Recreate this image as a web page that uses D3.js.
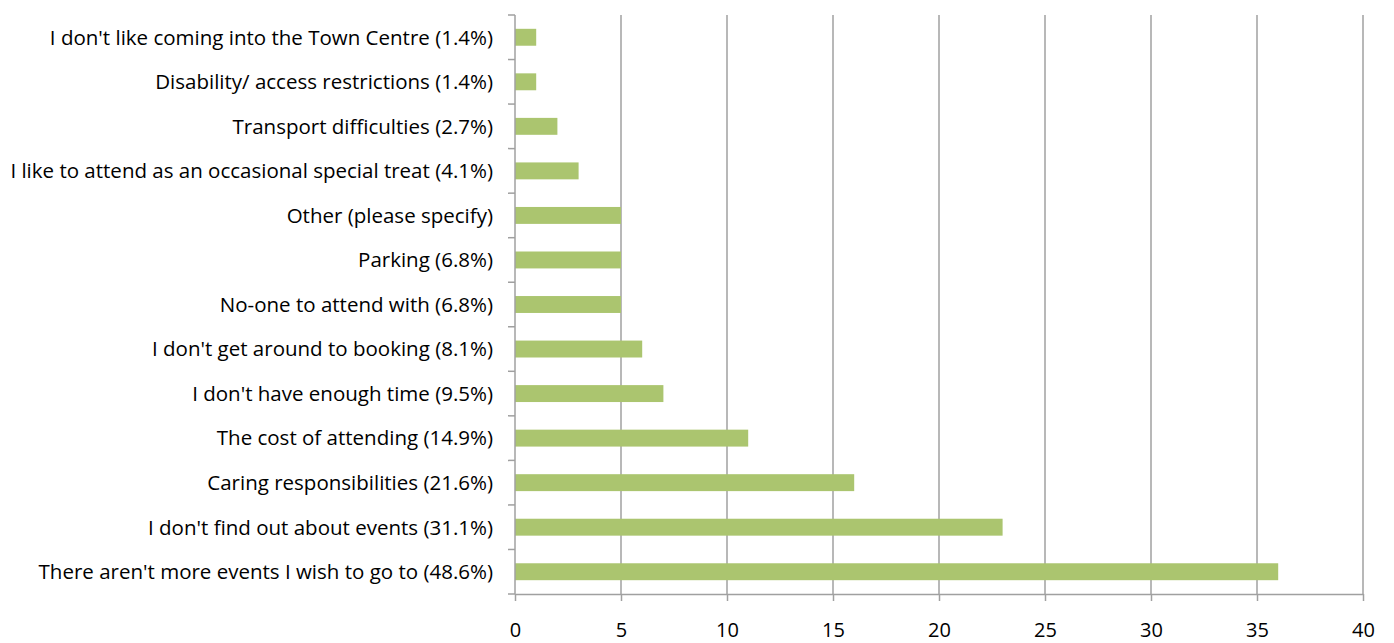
<!DOCTYPE html>
<html>
<head>
<meta charset="utf-8">
<script src="https://cdn.jsdelivr.net/npm/d3@7"></script>
<style>
  html, body { margin: 0; padding: 0; background: #fff; }
  svg { display: block; }
  text { font-family: "Open Sans", Lato, sans-serif; fill: #000; }
</style>
</head>
<body>
<svg id="chart" width="1394" height="643"></svg>
<script>
// Reasons given, top to bottom, with response counts
const categories = [
  "I don't like coming into the Town Centre (1.4%)",
  "Disability/ access restrictions (1.4%)",
  "Transport difficulties (2.7%)",
  "I like to attend as an occasional special treat (4.1%)",
  "Other (please specify)",
  "Parking (6.8%)",
  "No-one to attend with (6.8%)",
  "I don't get around to booking (8.1%)",
  "I don't have enough time (9.5%)",
  "The cost of attending (14.9%)",
  "Caring responsibilities (21.6%)",
  "I don't find out about events (31.1%)",
  "There aren't more events I wish to go to (48.6%)"
];
const counts = [1, 1, 2, 3, 5, 5, 5, 6, 7, 11, 16, 23, 36];
const xTicks = [0, 5, 10, 15, 20, 25, 30, 35, 40];

const svg = d3.select("#chart");
const plotLeft = 515, plotRight = 1363, plotTop = 15, plotBottom = 594;

const x = d3.scaleLinear().domain([0, 40]).range([plotLeft, plotRight]);
const y = d3.scaleBand().domain(categories).range([plotTop, plotBottom]).paddingInner(0.62).paddingOuter(0.31);

// vertical gridlines
svg.append("g")
  .selectAll("line")
  .data(xTicks.filter(d => d > 0))
  .join("line")
  .attr("x1", d => x(d)).attr("x2", d => x(d))
  .attr("y1", plotTop).attr("y2", plotBottom)
  .attr("stroke", "#a0a0a0").attr("stroke-width", 1.5);

// bars
svg.append("g")
  .selectAll("rect")
  .data(counts)
  .join("rect")
  .attr("x", x(0))
  .attr("y", (d, i) => y(categories[i]))
  .attr("width", d => x(d) - x(0))
  .attr("height", y.bandwidth())
  .attr("fill", "#abc56f");

// bottom axis
const xAxis = svg.append("g")
  .attr("transform", `translate(0,${plotBottom})`)
  .call(d3.axisBottom(x).tickValues(xTicks).tickSize(7).tickSizeOuter(0).tickPadding(22));
xAxis.select(".domain").attr("stroke", "#a0a0a0").attr("stroke-width", 1.5);
xAxis.selectAll(".tick line").attr("stroke", "#a0a0a0").attr("stroke-width", 1.5);
xAxis.selectAll(".tick text").style("font-size", "20px").attr("fill", "#000");

// left axis with ticks at category boundaries
const step = y.step();
const boundaries = d3.range(categories.length + 1).map(i => plotTop + i * step);
const yAxis = svg.append("g");
yAxis.append("line")
  .attr("x1", plotLeft).attr("x2", plotLeft)
  .attr("y1", plotTop).attr("y2", plotBottom)
  .attr("stroke", "#a0a0a0").attr("stroke-width", 1.5);
yAxis.selectAll("line.tk")
  .data(boundaries)
  .join("line")
  .attr("class", "tk")
  .attr("x1", plotLeft - 7).attr("x2", plotLeft)
  .attr("y1", d => d).attr("y2", d => d)
  .attr("stroke", "#a0a0a0").attr("stroke-width", 1.5);

// category labels
svg.append("g")
  .selectAll("text")
  .data(categories)
  .join("text")
  .attr("x", plotLeft - 22)
  .attr("y", d => y(d) + y.bandwidth() / 2)
  .attr("dy", "0.36em")
  .attr("text-anchor", "end")
  .style("font-size", "20.5px")
  .text(d => d);
</script>
</body>
</html>
